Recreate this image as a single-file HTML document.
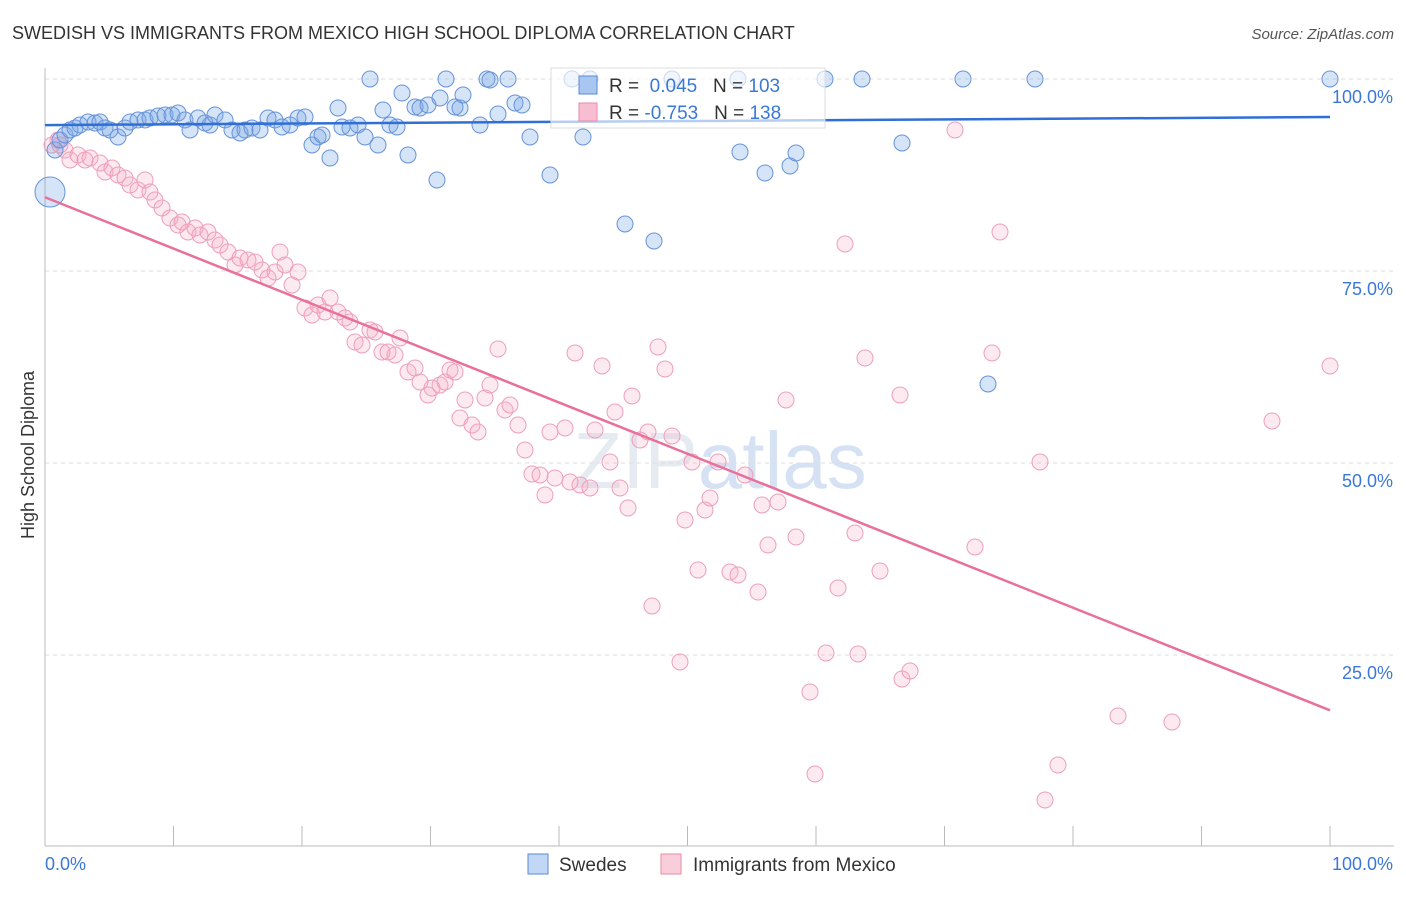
<!DOCTYPE html>
<html><head><meta charset="utf-8"><style>
body{margin:0;background:#fff;font-family:"Liberation Sans",sans-serif;}
svg text{font-family:"Liberation Sans",sans-serif;}
</style></head><body>
<svg id="chart" width="1406" height="892" viewBox="0 0 1406 892" xmlns="http://www.w3.org/2000/svg">
<text x="12" y="39" font-size="18" fill="#333">SWEDISH VS IMMIGRANTS FROM MEXICO HIGH SCHOOL DIPLOMA CORRELATION CHART</text>
<text x="1394" y="39" font-size="15" fill="#555" text-anchor="end" font-style="italic">Source: ZipAtlas.com</text>
<text transform="translate(34,455) rotate(-90)" font-size="18" fill="#333" text-anchor="middle">High School Diploma</text>
<text x="720" y="488" font-size="80" fill="#e6ebf2" text-anchor="middle" font-family="Liberation Serif">ZIP<tspan fill="#d6e2f3" font-family="Liberation Sans">atlas</tspan></text>
<g id="grid"></g><g id="axes"></g><g id="pink"></g><g id="blue"></g><g id="trends"></g>
<g>
<rect x="551" y="68" width="274" height="60" fill="#fff" fill-opacity="0.65" stroke="#ddd"/>
<rect x="579" y="76" width="18" height="18" fill="#a9c6f0" stroke="#5a8ad6"/>
<text x="609" y="92" font-size="19" fill="#333">R = <tspan fill="#3a78d8">&#160;0.045</tspan>&#160;&#160;&#160;N = <tspan fill="#3a78d8">103</tspan></text>
<rect x="579" y="103" width="18" height="18" fill="#f7bdd0" stroke="#e88aaa"/>
<text x="609" y="119" font-size="19" fill="#333">R = <tspan fill="#3a78d8">-0.753</tspan>&#160;&#160;&#160;N = <tspan fill="#3a78d8">138</tspan></text>
</g>
<g>
<rect x="528" y="854" width="20" height="20" fill="#c2d7f5" stroke="#5a8ad6"/>
<text x="559" y="871" font-size="19" fill="#333">Swedes</text>
<rect x="661" y="854" width="20" height="20" fill="#f9cdda" stroke="#e88aaa"/>
<text x="693" y="871" font-size="19" fill="#333">Immigrants from Mexico</text>
</g>
</svg>
<script>
const yTicks=[100,75,50,25];
const yTickLabels=["100.0%","75.0%","50.0%","25.0%"];
const xTickCount=10;
const blueTrend=[94.0,95.05];
const pinkTrend=[84.6,17.8];
const bluePx=[[50,192],[55,150],[60,140],[65,135],[70,130],[75,128],[80,125],[88,122],[95,123],[100,122],[105,128],[110,130],[118,137],[125,128],[130,122],[138,120],[145,120],[150,118],[158,116],[165,115],[172,115],[178,113],[185,120],[190,130],[198,118],[205,123],[210,125],[215,115],[225,120],[232,130],[240,133],[245,130],[252,128],[260,130],[268,118],[275,120],[282,127],[290,125],[298,118],[305,117],[312,145],[318,137],[322,135],[330,158],[338,108],[342,127],[350,128],[358,125],[365,137],[378,145],[383,110],[390,125],[397,127],[402,93],[408,155],[415,107],[420,108],[428,105],[437,180],[440,98],[446,79],[455,107],[460,108],[463,95],[480,125],[487,79],[490,80],[498,114],[508,79],[515,103],[522,105],[530,137],[550,175],[572,79],[583,137],[625,224],[654,241],[672,79],[740,152],[765,173],[790,166],[796,153],[825,79],[862,79],[902,143],[963,79],[988,384],[1035,79],[1330,79],[370,79],[738,79],[590,79]];
const pinkPx=[[52,145],[58,140],[65,150],[70,160],[78,155],[85,160],[90,158],[100,163],[105,172],[112,168],[118,175],[125,178],[130,185],[138,190],[145,180],[150,192],[155,200],[162,208],[170,218],[178,225],[182,222],[188,232],[195,228],[200,235],[208,232],[215,240],[220,245],[228,252],[235,265],[240,258],[248,260],[255,262],[262,270],[268,278],[275,272],[280,252],[285,265],[292,285],[298,272],[305,308],[312,315],[318,305],[325,312],[330,298],[338,312],[345,318],[350,322],[355,342],[362,345],[370,330],[375,332],[382,352],[388,352],[395,355],[400,338],[408,372],[415,368],[420,382],[428,395],[432,388],[440,385],[445,382],[450,370],[455,372],[460,418],[465,400],[472,425],[478,432],[485,398],[490,385],[498,349],[505,410],[510,405],[518,425],[525,450],[532,474],[540,475],[545,495],[550,432],[555,478],[565,428],[570,482],[575,353],[580,485],[590,488],[595,430],[602,366],[610,462],[615,412],[620,488],[628,508],[632,396],[640,440],[648,432],[652,606],[658,347],[665,369],[672,436],[680,662],[685,520],[692,462],[698,570],[705,510],[710,498],[718,462],[730,572],[738,575],[745,475],[758,592],[762,505],[768,545],[778,502],[786,400],[796,537],[810,692],[815,774],[826,653],[838,588],[845,244],[855,533],[858,654],[865,358],[880,571],[900,395],[902,679],[910,671],[955,130],[975,547],[992,353],[1000,232],[1040,462],[1045,800],[1058,765],[1118,716],[1172,722],[1272,421],[1330,366],[60,145]];
const X0=45,X1=1330,Y0=847,YS=7.68;
const toX=v=>X0+v*(X1-X0)/100, toY=v=>Y0-v*YS;
const fromPx=p=>[(p[0]-X0)*100/(X1-X0),(Y0-p[1])/YS];
const blueData=bluePx.map(fromPx), pinkData=pinkPx.map(fromPx);
const NS="http://www.w3.org/2000/svg";
function mk(tag,attrs,parent){const e=document.createElementNS(NS,tag);for(const k in attrs)e.setAttribute(k,attrs[k]);document.getElementById(parent).appendChild(e);return e;}
yTicks.forEach((t,i)=>{
 const g=mk('line',{x1:45,x2:1394,y1:toY(t),y2:toY(t),stroke:'#ddd','stroke-dasharray':'4,4'},'grid');
 
 
 const l=mk('text',{x:1393,y:toY(t)+24,'font-size':18,fill:'#3a78d8','text-anchor':'end'},'axes');
 l.textContent=yTickLabels[i];
 
 
});
const ya=mk('line',{x1:45,x2:45,y1:68,y2:846,stroke:'#bbb'},'axes');


const xa=mk('line',{x1:45,x2:1394,y1:846,y2:846,stroke:'#bbb'},'axes');


for(let i=0;i<=xTickCount;i++){const t=mk('line',{x1:toX(i*10),x2:toX(i*10),y1:826,y2:846,stroke:'#bbb'},'axes');
 
 }
const xl0=mk('text',{x:45,y:870,'font-size':18,fill:'#3a78d8'},'axes');xl0.textContent='0.0%';


const xl1=mk('text',{x:1393,y:870,'font-size':18,fill:'#3a78d8','text-anchor':'end'},'axes');xl1.textContent='100.0%';


pinkData.forEach(d=>{const c=mk('circle',{cx:toX(d[0]),cy:toY(d[1]),r:8,fill:'rgba(244,170,196,0.25)',stroke:'#ee9fba','stroke-width':1},'pink');
 
 });
blueData.forEach((d,i)=>{const c=mk('circle',{cx:toX(d[0]),cy:toY(d[1]),r:i===0?15:8,fill:'rgba(120,165,230,0.3)',stroke:'#6693da','stroke-width':1},'blue');
 
 });
const bt=mk('line',{x1:toX(0),x2:toX(100),y1:toY(blueTrend[0]),y2:toY(blueTrend[1]),stroke:'#2f6fd6','stroke-width':2.5},'trends');


const pt=mk('line',{x1:toX(0),x2:toX(100),y1:toY(pinkTrend[0]),y2:toY(pinkTrend[1]),stroke:'#e8709a','stroke-width':2.5},'trends');


</script>
</body></html>
